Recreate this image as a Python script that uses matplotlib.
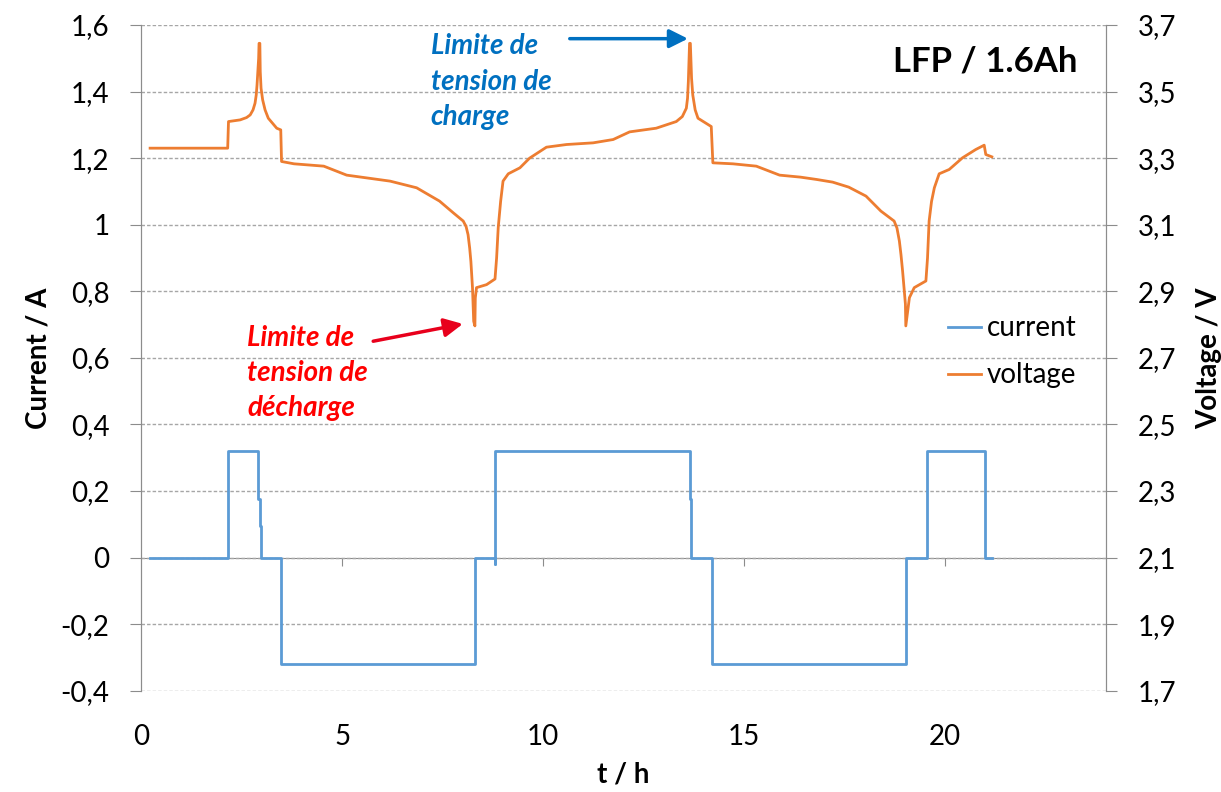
import matplotlib
matplotlib.use('Agg')
from matplotlib import pyplot as plt
from matplotlib.ticker import FuncFormatter, MultipleLocator
import numpy as np

plt.rcParams['font.family'] = ['Lato', 'DejaVu Sans']

# current steps (t in h, I in A)
cur_t = [0.22, 2.15, 2.15, 2.91, 2.91, 2.95, 2.95, 2.97, 2.97, 3.48, 3.48,
         8.30, 8.30, 8.80, 8.80, 8.80, 13.64, 13.64, 13.68, 13.68, 14.20, 14.20,
         19.02, 19.02, 19.55, 19.55, 21.00, 21.00, 21.17]
cur_I = [0, 0, 0.32, 0.32, 0.175, 0.175, 0.095, 0.095, 0, 0, -0.32,
         -0.32, 0, 0, -0.02, 0.32, 0.32, 0.176, 0.176, 0, 0, -0.32,
         -0.32, 0, 0, 0.32, 0.32, 0, 0]

# cell voltage (t in h, V)
volt_t = [0.22, 2.15, 2.17, 2.46, 2.62, 2.71, 2.78, 2.83, 2.86, 2.88, 2.90,
          2.92, 2.93, 2.95, 2.96, 2.98, 3.02, 3.08, 3.16, 3.37, 3.47, 3.49,
          3.80, 4.54, 5.11, 6.19, 6.85, 7.42, 7.76, 8.01, 8.08, 8.13, 8.17,
          8.20, 8.24, 8.27, 8.30, 8.31, 8.34, 8.59, 8.80, 8.84, 8.88, 8.94,
          9.00, 9.13, 9.42, 9.66, 10.08, 10.58, 11.24, 11.74, 12.15, 12.81,
          13.31, 13.46, 13.56, 13.59, 13.61, 13.64, 13.66, 13.69, 13.72, 13.78,
          13.85, 14.18, 14.22, 14.72, 15.30, 15.88, 16.40, 16.80, 17.20, 17.60,
          18.03, 18.40, 18.73, 18.80, 18.86, 18.90, 18.94, 19.01, 19.02, 19.11,
          19.23, 19.52, 19.56, 19.60, 19.66, 19.73, 19.85, 20.10, 20.43, 20.76,
          20.97, 21.01, 21.16]
volt_V = [3.33, 3.33, 3.41, 3.415, 3.422, 3.43, 3.445, 3.465, 3.49, 3.52,
          3.56, 3.60, 3.645, 3.645, 3.56, 3.51, 3.475, 3.445, 3.42, 3.39, 3.385,
          3.29, 3.283, 3.276, 3.249, 3.231, 3.211, 3.171, 3.136, 3.111, 3.095,
          3.07, 3.03, 2.99, 2.911, 2.81, 2.796, 2.88, 2.911, 2.92, 2.937, 3.0,
          3.091, 3.17, 3.231, 3.253, 3.271, 3.30, 3.333, 3.341, 3.346, 3.356,
          3.379, 3.39, 3.41, 3.425, 3.45, 3.48, 3.53, 3.645, 3.645, 3.54, 3.49,
          3.445, 3.42, 3.395, 3.286, 3.283, 3.276, 3.249, 3.243, 3.236, 3.228,
          3.213, 3.186, 3.141, 3.111, 3.09, 3.051, 3.01, 2.961, 2.862, 2.796,
          2.881, 2.911, 2.931, 3.0, 3.111, 3.17, 3.211, 3.253, 3.266, 3.301,
          3.326, 3.339, 3.311, 3.304]

axis_grey = '#8c8c8c'
grid_grey = '#a6a6a6'
fs = 20


def comma_fmt(v, pos):
    v = round(v, 2)
    if v == 0:
        return '0'
    return ('%g' % v).replace('.', ',')


fig = plt.figure(figsize=(12.21, 7.92), dpi=100)
ax = fig.add_axes([0.1157, 0.1279, 0.9058 - 0.1157, 0.9684 - 0.1279])
ax2 = ax.twinx()

l1, = ax.plot(cur_t, cur_I, color='#5b9bd5', lw=2.0, label='current')
l2, = ax2.plot(volt_t, volt_V, color='#ed7d31', lw=2.0, label='voltage')

ax.set_xlim(0, 24)
ax.set_ylim(-0.4, 1.6)
ax2.set_ylim(1.7, 3.7)
ax.yaxis.set_major_locator(MultipleLocator(0.2))
ax2.set_yticks(np.arange(1.7, 3.71, 0.2))
ax.set_xticks([0, 5, 10, 15, 20])
ax.yaxis.set_major_formatter(FuncFormatter(comma_fmt))
ax2.yaxis.set_major_formatter(FuncFormatter(comma_fmt))

ax.grid(axis='y', color=grid_grey, ls=(0, (2.5, 1.5)), lw=1)
ax.set_axisbelow(True)

for a in (ax, ax2):
    for s in ('top', 'bottom'):
        a.spines[s].set_visible(False)
    a.spines['left'].set_color(axis_grey)
    a.spines['right'].set_color(axis_grey)

ax.tick_params(axis='y', direction='out', length=8, color=axis_grey,
               labelsize=fs, pad=15)
ax2.tick_params(axis='y', direction='out', length=8, color=axis_grey,
                labelsize=fs, pad=15)
ax.tick_params(axis='x', length=0, labelsize=fs, pad=24)

# x axis line drawn through I = 0
zero_axis = ax.secondary_xaxis(0.2)
zero_axis.set_xticks([5, 10, 15, 20])
zero_axis.tick_params(axis='x', direction='out', length=6, color=axis_grey,
                      labelbottom=False)
zero_axis.spines['bottom'].set_color(axis_grey)

ax.set_xlabel('t / h', fontsize=fs, fontweight='bold', labelpad=8)
ax.set_ylabel('Current / A', fontsize=fs, fontweight='bold', labelpad=6)
ax2.set_ylabel('Voltage / V', fontsize=fs, fontweight='bold', labelpad=14)

ax.legend(handles=[l1, l2], loc='center left', bbox_to_anchor=(0.836, 0.509),
          frameon=False, fontsize=fs, handlelength=1.2, handletextpad=0.2,
          labelspacing=0.75, borderpad=0, borderaxespad=0)

ax.text(23.28, 1.46, 'LFP / 1.6Ah', fontsize=25, fontweight='bold',
        ha='right', va='baseline')

ax.text(7.2, 1.575, 'Limite de\ntension de\ncharge', color='#0070c0',
        fontsize=20, fontweight='bold', style='italic', ha='left', va='top',
        linespacing=1.45)
ax.annotate('', xy=(13.6, 1.559), xytext=(10.66, 1.559),
            arrowprops=dict(arrowstyle='-|>', color='#0070c0', lw=2.5,
                            mutation_scale=28, shrinkA=0, shrinkB=0))

ax.text(2.64, 0.70, 'Limite de\ntension de\ndécharge', color='#ff0000',
        fontsize=20, fontweight='bold', style='italic', ha='left', va='top',
        linespacing=1.45)
ax.annotate('', xy=(8.0, 0.702), xytext=(5.77, 0.65),
            arrowprops=dict(arrowstyle='-|>', color='#e8001c', lw=2.5,
                            mutation_scale=28, shrinkA=0, shrinkB=0))

fig.savefig('out.png', dpi=100)
